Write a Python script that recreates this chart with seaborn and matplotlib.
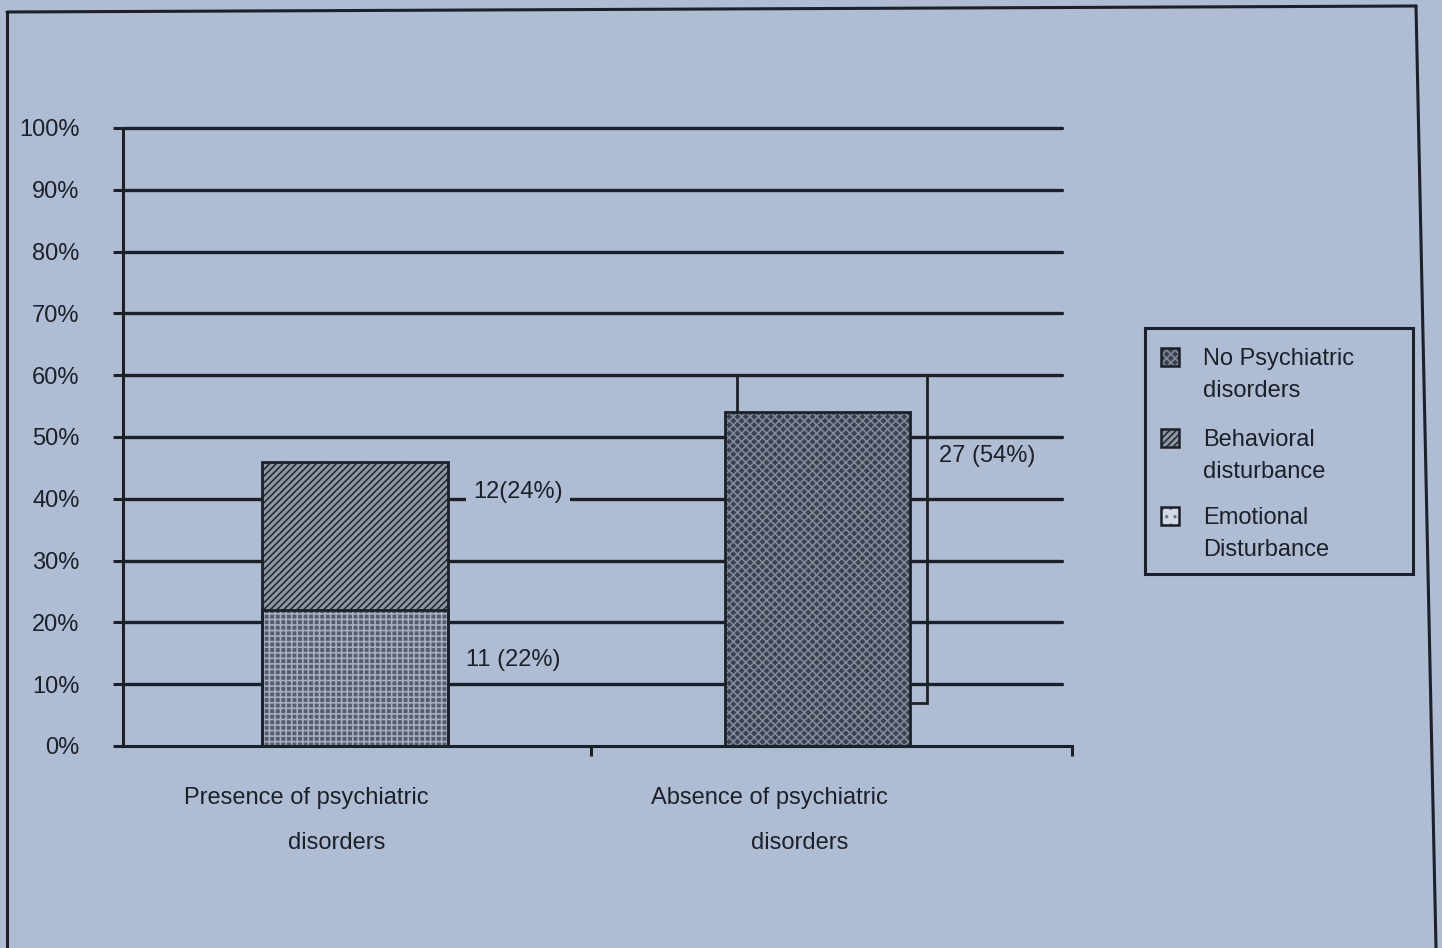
import matplotlib
matplotlib.use("Agg")
import matplotlib.pyplot as plt
import matplotlib.transforms as mtransforms
from matplotlib.patches import Rectangle
from matplotlib.lines import Line2D
import pandas as pd
import seaborn as sns

# ---- data -------------------------------------------------------------
groups = ["Presence of psychiatric disorders", "Absence of psychiatric disorders"]
group_label_lines = [("Presence of psychiatric", "disorders"),
                     ("Absence of psychiatric", "disorders")]

no_psych_n = [0, 27]
no_psych_pct = [0, 54]
behavioral_n = [12, 0]
behavioral_pct = [24, 0]
emotional_n = [11, 0]
emotional_pct = [22, 0]

# open frame drawn behind the second bar
frame_low = [7]
frame_high = [60]

y_ticks = [0, 10, 20, 30, 40, 50, 60, 70, 80, 90, 100]
y_tick_labels = [f"{v}%" for v in y_ticks]

legend_labels = [("No Psychiatric", "disorders"),
                 ("Behavioral", "disturbance"),
                 ("Emotional", "Disturbance")]

# ---- style ------------------------------------------------------------
W, H = 1442, 948
paper = "#aebdd4"
ink = "#1c2027"
fs = 17

sns.set_theme(style="white")
plt.rcParams["font.family"] = ["Liberation Sans", "DejaVu Sans"]
plt.rcParams["hatch.linewidth"] = 1.2

styles = {
    "no_psych": dict(face="#3c424c", hatch="xxxx", hatch_color="#7f899b"),
    "behavioral": dict(face="#8f97a5", hatch="/////", hatch_color="#262a31"),
    "emotional": dict(face="#575d68", hatch="+++", hatch_color="#a3aec1"),
}


def apply_style(patch, key):
    st = styles[key]
    patch.set_facecolor(st["face"])
    patch.set_hatch(st["hatch"])
    patch.set_edgecolor(st["hatch_color"])
    patch.set_linewidth(0)


fig = plt.figure(figsize=(W / 100, H / 100), dpi=100, facecolor=paper)
ax = fig.add_axes([123 / W, 202 / H, 949 / W, 618 / H])
ax.set_facecolor(paper)

# stacked bars: full stack first, then the lower segment on top of it
totals = [a + b + c for a, b, c in zip(no_psych_pct, behavioral_pct, emotional_pct)]
df_total = pd.DataFrame({"group": groups, "pct": totals})
df_low = pd.DataFrame({"group": groups, "pct": emotional_pct})

sns.barplot(data=df_total, x="group", y="pct", order=groups, ax=ax,
            width=0.4, color="#555555", saturation=1, linewidth=0, zorder=2)
n_first = len(ax.patches)
sns.barplot(data=df_low, x="group", y="pct", order=groups, ax=ax,
            width=0.4, color="#555555", saturation=1, linewidth=0, zorder=3)
top_patches = ax.patches[:n_first]
low_patches = ax.patches[n_first:]

top_keys = ["behavioral" if behavioral_pct[i] > 0 else "no_psych" for i in range(len(groups))]
for p, key in zip(top_patches, top_keys):
    apply_style(p, key)
for p in low_patches:
    apply_style(p, "emotional")

for p in list(top_patches) + list(low_patches):
    if p.get_height() > 0:
        ax.add_patch(Rectangle(p.get_xy(), p.get_width(), p.get_height(),
                               fill=False, ec=ink, lw=2.0, zorder=4))

# open outline frame offset behind the second bar
ax.bar([1 + 0.03], [frame_high[0] - frame_low[0]], bottom=frame_low, width=0.41,
       fill=False, edgecolor=ink, linewidth=2.0, zorder=1.5)

# horizontal rules
for v in y_ticks[1:]:
    ax.axhline(v, xmin=0, xmax=0.9895, color=ink, lw=2.4, zorder=1, clip_on=False)

ax.set_xlim(-0.501, 1.549)
ax.set_ylim(0, 100)
ax.set_xlabel("")
ax.set_ylabel("")

for side in ["top", "right"]:
    ax.spines[side].set_visible(False)
for side in ["left", "bottom"]:
    ax.spines[side].set_visible(True)
    ax.spines[side].set_color(ink)
    ax.spines[side].set_linewidth(2.2)
    ax.spines[side].set_zorder(5)

ax.set_yticks(y_ticks)
ax.set_yticklabels(y_tick_labels)
ax.tick_params(axis="y", left=True, direction="out", length=7.2, width=2.2,
               color=ink, pad=24, labelsize=fs, labelcolor=ink)
ax.set_xticks([0.51, 1.549])
ax.set_xticklabels(["", ""])
ax.tick_params(axis="x", bottom=True, direction="out", length=7.2, width=2.2, color=ink)

# category labels (two lines each)
trans = mtransforms.blended_transform_factory(ax.transData, ax.transAxes)
for i, (l1, l2) in enumerate(group_label_lines):
    ax.text(i - 0.105, -0.084, l1, transform=trans, ha="center", va="center",
            fontsize=fs, color=ink)
    ax.text(i - 0.04, -0.157, l2, transform=trans, ha="center", va="center",
            fontsize=fs, color=ink)

# value labels
value_labels = [
    (f"{behavioral_n[0]}({behavioral_pct[0]}%)", 0.352, 41.1, True),
    (f"{emotional_n[0]} ({emotional_pct[0]}%)", 0.343, 13.9, False),
    (f"{no_psych_n[1]} ({no_psych_pct[1]}%)", 1.365, 46.9, False),
]
for txt, x, y, boxed in value_labels:
    kw = {}
    if boxed:
        kw["bbox"] = dict(boxstyle="square,pad=0.3", fc=paper, ec="none")
    ax.text(x, y, txt, ha="center", va="center", fontsize=fs, color=ink,
            zorder=6, **kw)

# legend panel
fig.add_artist(Rectangle((1145 / W, (H - 574) / H), (1413 - 1145) / W, (574 - 328) / H,
                         transform=fig.transFigure, fill=False, ec=ink, lw=2.2))
legend_keys = ["no_psych", "behavioral", "emotional"]
legend_rows = [357, 438, 516]
for key, (l1, l2), yc in zip(legend_keys, legend_labels, legend_rows):
    st = styles[key]
    face = st["face"] if key != "emotional" else "#d3dae6"
    hatch_col = st["hatch_color"] if key != "emotional" else "#6c7380"
    sq = Rectangle((1161 / W, (H - yc - 9) / H), 18 / W, 18 / H,
                   transform=fig.transFigure, fc=face, ec=hatch_col,
                   hatch=st["hatch"] if key != "emotional" else "..", lw=0)
    fig.add_artist(sq)
    fig.add_artist(Rectangle((1161 / W, (H - yc - 9) / H), 18 / W, 18 / H,
                             transform=fig.transFigure, fill=False, ec=ink, lw=1.8))
    fig.text(1203 / W, (H - yc - 8) / H, l1, fontsize=fs, color=ink, va="baseline")
    fig.text(1203 / W, (H - yc - 40) / H, l2, fontsize=fs, color=ink, va="baseline")

# outer frame
frame_kw = dict(transform=fig.transFigure, color=ink, lw=2.2)
fig.add_artist(Line2D([7 / W, 1416 / W], [(H - 12) / H, (H - 6) / H], **frame_kw))
fig.add_artist(Line2D([7 / W, 7 / W], [(H - 12) / H, 0], **frame_kw))
fig.add_artist(Line2D([1416 / W, 1436 / W], [(H - 6) / H, 0], **frame_kw))

fig.savefig("out.png", dpi=100, facecolor=paper)
